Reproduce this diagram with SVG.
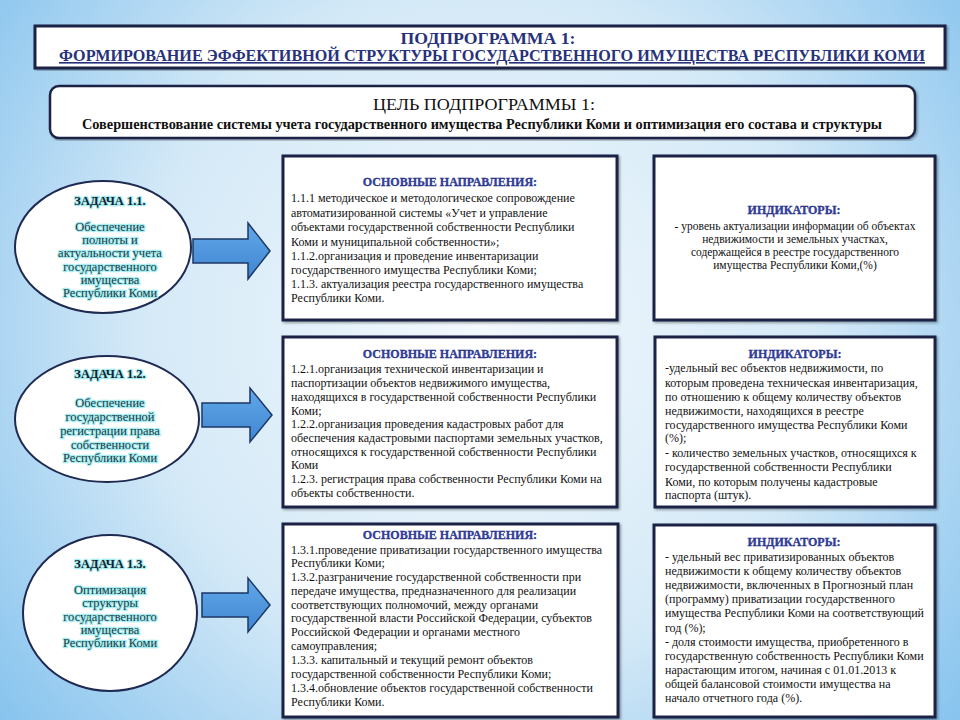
<svg xmlns="http://www.w3.org/2000/svg" width="960" height="720" viewBox="0 0 960 720">
<defs>
<radialGradient id="bg" cx="480" cy="330" r="620" gradientUnits="userSpaceOnUse">
<stop offset="0" stop-color="#f3f9fd"/>
<stop offset="0.55" stop-color="#d4e9f7"/>
<stop offset="1" stop-color="#86c3ee"/>
</radialGradient>
<linearGradient id="arrowFill" x1="0" y1="0" x2="0" y2="1">
<stop offset="0" stop-color="#62a8e8"/>
<stop offset="1" stop-color="#3f86d2"/>
</linearGradient>
<filter id="sh" x="-5%" y="-5%" width="110%" height="110%">
<feDropShadow dx="1.5" dy="1.5" stdDeviation="1.2" flood-color="#000" flood-opacity="0.35"/>
</filter>
</defs>
<style>
.box{fill:#fff;stroke:#1c2444;stroke-width:3}
.ell{fill:#fff;stroke:#1e2a52;stroke-width:2}
.arr{fill:url(#arrowFill);stroke:#1d3766;stroke-width:1.5;stroke-linejoin:miter}
.t{font-family:"Liberation Serif","Times New Roman",serif;font-size:12px;fill:#111}
.c{text-anchor:middle}
.s{font-size:11.5px}
.hd{font-family:"Liberation Serif","Times New Roman",serif;font-size:12px;font-weight:bold;fill:#3142a8;stroke:#1b2570;stroke-width:0.3;text-anchor:middle}
.tk{font-family:"Liberation Serif","Times New Roman",serif;font-size:12.5px;font-weight:bold;fill:#14232f;stroke:#a6eef2;stroke-width:2.5;paint-order:stroke;stroke-linejoin:round;text-anchor:middle}
.tb{font-family:"Liberation Serif","Times New Roman",serif;font-size:12.5px;fill:#1e3a44;stroke:#a6eef2;stroke-width:2.5;paint-order:stroke;stroke-linejoin:round;text-anchor:middle}
.title{font-family:"Liberation Serif","Times New Roman",serif;font-weight:bold;font-size:16px;fill:#27327a;text-anchor:middle}
</style>
<rect x="0" y="0" width="960" height="720" fill="url(#bg)"/>

<g id="title">
<rect x="35" y="26" width="910" height="42" fill="#fff" stroke="#1c2444" stroke-width="3" filter="url(#sh)"/>
<text class="title" x="488" y="44" textLength="175" lengthAdjust="spacingAndGlyphs">ПОДПРОГРАММА 1:</text>
<text class="title" x="492" y="61" textLength="866" lengthAdjust="spacingAndGlyphs" text-decoration="underline">ФОРМИРОВАНИЕ ЭФФЕКТИВНОЙ СТРУКТУРЫ ГОСУДАРСТВЕННОГО ИМУЩЕСТВА РЕСПУБЛИКИ КОМИ</text>
</g>

<g id="goal">
<rect x="50" y="86" width="865" height="52" rx="9" fill="#fff" stroke="#1c2444" stroke-width="2.5" filter="url(#sh)"/>
<text x="484" y="110" font-family="Liberation Serif, serif" font-size="17" fill="#111" text-anchor="middle" textLength="222" lengthAdjust="spacingAndGlyphs">ЦЕЛЬ ПОДПРОГРАММЫ 1:</text>
<text x="482" y="129" font-family="Liberation Serif, serif" font-size="14" font-weight="bold" fill="#111" text-anchor="middle" textLength="800" lengthAdjust="spacingAndGlyphs">Совершенствование системы учета государственного имущества Республики Коми и оптимизация его состава и структуры</text>
</g>

<g id="connectors">
<polygon class="arr" points="193,239 248,239 248,223 270,251 248,279 248,263 193,263"/>
<polygon class="arr" points="202,403 250,403 250,388 272,415 250,442 250,427 202,427"/>
<polygon class="arr" points="202,593 248,593 248,578 270,605 248,632 248,617 202,617"/>
</g>

<g id="task1">
<ellipse class="ell" cx="103" cy="247" rx="88" ry="66"/>
<text class="tk" x="110" y="205">ЗАДАЧА 1.1.</text>
<text class="tb" x="110" y="231">Обеспечение</text>
<text class="tb" x="110" y="244">полноты и</text>
<text class="tb" x="110" y="257">актуальности учета</text>
<text class="tb" x="110" y="271">государственного</text>
<text class="tb" x="110" y="284">имущества</text>
<text class="tb" x="110" y="297">Республики Коми</text>
</g>

<g id="task2">
<ellipse class="ell" cx="107" cy="419" rx="92" ry="63"/>
<text class="tk" x="110" y="378">ЗАДАЧА 1.2.</text>
<text class="tb" x="110" y="407">Обеспечение</text>
<text class="tb" x="110" y="421">государственной</text>
<text class="tb" x="110" y="435">регистрации права</text>
<text class="tb" x="110" y="449">собственности</text>
<text class="tb" x="110" y="462">Республики Коми</text>
</g>

<g id="task3">
<ellipse class="ell" cx="110" cy="613" rx="87" ry="78"/>
<text class="tk" x="110" y="568">ЗАДАЧА 1.3.</text>
<text class="tb" x="110" y="594">Оптимизация</text>
<text class="tb" x="110" y="607">структуры</text>
<text class="tb" x="110" y="621">государственного</text>
<text class="tb" x="110" y="634">имущества</text>
<text class="tb" x="110" y="647">Республики Коми</text>
</g>

<g id="directions1">
<rect class="box" x="283" y="156" width="334" height="164" filter="url(#sh)"/>
<text class="hd" x="450" y="186">ОСНОВНЫЕ НАПРАВЛЕНИЯ:</text>
<text class="t" x="291" y="202">1.1.1 методическое и методологическое сопровождение</text>
<text class="t" x="291" y="217">автоматизированной системы «Учет и управление</text>
<text class="t" x="291" y="231">объектами государственной собственности Республики</text>
<text class="t" x="291" y="246">Коми и муниципальной собственности»;</text>
<text class="t" x="291" y="260">1.1.2.организация и проведение инвентаризации</text>
<text class="t" x="291" y="274">государственного имущества Республики Коми;</text>
<text class="t" x="291" y="288">1.1.3. актуализация реестра государственного имущества</text>
<text class="t" x="291" y="302">Республики Коми.</text>
</g>

<g id="indicators1">
<rect class="box" x="654" y="156" width="281" height="164" filter="url(#sh)"/>
<text class="hd" x="794" y="214">ИНДИКАТОРЫ:</text>
<text class="t c s" x="795" y="230">- уровень актуализации информации об объектах</text>
<text class="t c s" x="795" y="243">недвижимости и земельных участках,</text>
<text class="t c s" x="795" y="256">содержащейся в реестре государственного</text>
<text class="t c s" x="795" y="269">имущества Республики Коми,(%)</text>
</g>

<g id="directions2">
<rect class="box" x="283" y="337" width="334" height="170" filter="url(#sh)"/>
<text class="hd" x="450" y="358">ОСНОВНЫЕ НАПРАВЛЕНИЯ:</text>
<text class="t" x="291" y="373">1.2.1.организация технической инвентаризации и</text>
<text class="t" x="291" y="387">паспортизации объектов недвижимого имущества,</text>
<text class="t" x="291" y="401">находящихся в государственной собственности Республики</text>
<text class="t" x="291" y="415">Коми;</text>
<text class="t" x="291" y="428">1.2.2.организация проведения кадастровых работ для</text>
<text class="t" x="291" y="442">обеспечения кадастровыми паспортами земельных участков,</text>
<text class="t" x="291" y="456">относящихся к государственной собственности Республики</text>
<text class="t" x="291" y="469">Коми</text>
<text class="t" x="291" y="483">1.2.3. регистрация права собственности Республики Коми на</text>
<text class="t" x="291" y="497">объекты собственности.</text>
</g>

<g id="indicators2">
<rect class="box" x="655" y="337" width="280" height="170" filter="url(#sh)"/>
<text class="hd" x="795" y="358">ИНДИКАТОРЫ:</text>
<text class="t" x="665" y="372">-удельный вес объектов недвижимости, по</text>
<text class="t" x="665" y="387">которым проведена техническая инвентаризация,</text>
<text class="t" x="665" y="401">по отношению к общему количеству объектов</text>
<text class="t" x="665" y="415">недвижимости, находящихся в реестре</text>
<text class="t" x="665" y="429">государственного имущества Республики Коми</text>
<text class="t" x="665" y="442">(%);</text>
<text class="t" x="665" y="457">- количество земельных участков, относящихся к</text>
<text class="t" x="665" y="471">государственной собственности Республики</text>
<text class="t" x="665" y="486">Коми, по которым получены кадастровые</text>
<text class="t" x="665" y="499">паспорта (штук).</text>
</g>

<g id="directions3">
<rect class="box" x="283" y="524" width="335" height="193" filter="url(#sh)"/>
<text class="hd" x="450" y="539">ОСНОВНЫЕ НАПРАВЛЕНИЯ:</text>
<text class="t" x="291" y="554">1.3.1.проведение приватизации государственного имущества</text>
<text class="t" x="291" y="567">Республики Коми;</text>
<text class="t" x="291" y="581">1.3.2.разграничение государственной собственности при</text>
<text class="t" x="291" y="595">передаче имущества, предназначенного для реализации</text>
<text class="t" x="291" y="609">соответствующих полномочий, между органами</text>
<text class="t" x="291" y="622">государственной власти Российской Федерации, субъектов</text>
<text class="t" x="291" y="636">Российской Федерации и органами местного</text>
<text class="t" x="291" y="650">самоуправления;</text>
<text class="t" x="291" y="664">1.3.3. капитальный и текущий ремонт объектов</text>
<text class="t" x="291" y="678">государственной собственности Республики Коми;</text>
<text class="t" x="291" y="692">1.3.4.обновление объектов государственной собственности</text>
<text class="t" x="291" y="706">Республики Коми.</text>
</g>

<g id="indicators3">
<rect class="box" x="654" y="525" width="281" height="192" filter="url(#sh)"/>
<text class="hd" x="794" y="546">ИНДИКАТОРЫ:</text>
<text class="t" x="665" y="561">- удельный вес приватизированных объектов</text>
<text class="t" x="665" y="575">недвижимости к общему количеству объектов</text>
<text class="t" x="665" y="589">недвижимости, включенных в Прогнозный план</text>
<text class="t" x="665" y="603">(программу) приватизации государственного</text>
<text class="t" x="665" y="617">имущества Республики Коми на соответствующий</text>
<text class="t" x="665" y="632">год (%);</text>
<text class="t" x="665" y="646">- доля стоимости имущества, приобретенного в</text>
<text class="t" x="665" y="660">государственную собственность Республики Коми</text>
<text class="t" x="665" y="674">нарастающим итогом, начиная с 01.01.2013 к</text>
<text class="t" x="665" y="688">общей балансовой стоимости имущества на</text>
<text class="t" x="665" y="702">начало отчетного года (%).</text>
</g>
</svg>
